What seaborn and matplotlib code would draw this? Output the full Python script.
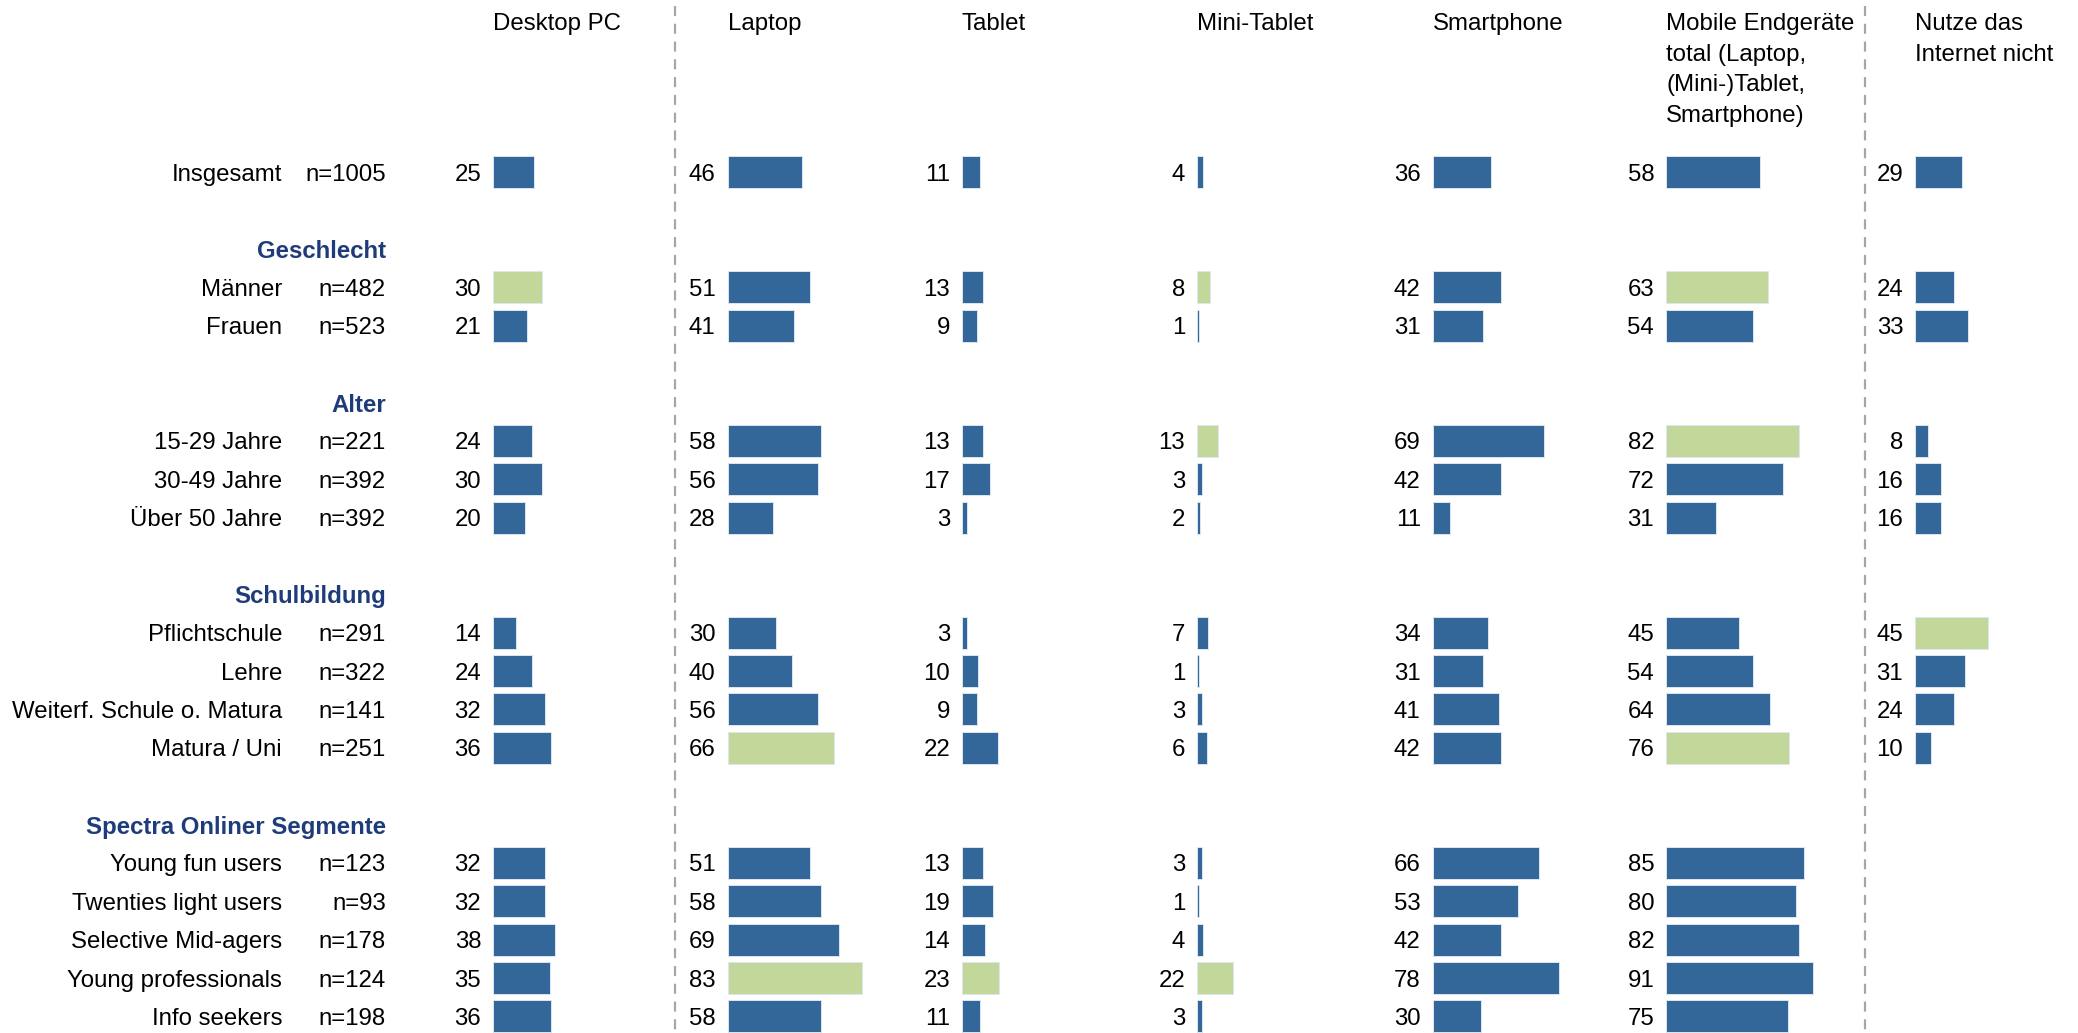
import matplotlib
matplotlib.use("Agg")
import matplotlib.pyplot as plt
import pandas as pd
import seaborn as sns

sns.set_theme(style="white")
plt.rcParams["font.family"] = ["Liberation Sans", "DejaVu Sans"]

# ---------------- data ----------------
group_names = ["", "Geschlecht", "Alter", "Schulbildung", "Spectra Onliner Segmente"]
group_rows = [
    ["Insgesamt"],
    ["Männer", "Frauen"],
    ["15-29 Jahre", "30-49 Jahre", "Über 50 Jahre"],
    ["Pflichtschule", "Lehre", "Weiterf. Schule o. Matura", "Matura / Uni"],
    ["Young fun users", "Twenties light users", "Selective Mid-agers",
     "Young professionals", "Info seekers"],
]
sample_sizes = ["n=1005", "n=482", "n=523", "n=221", "n=392", "n=392", "n=291",
                "n=322", "n=141", "n=251", "n=123", "n=93", "n=178", "n=124", "n=198"]

col_titles = ["Desktop PC", "Laptop", "Tablet", "Mini-Tablet", "Smartphone",
              "Mobile Endgeräte\ntotal (Laptop,\n(Mini-)Tablet,\nSmartphone)",
              "Nutze das\nInternet nicht"]

desktop    = [25, 30, 21, 24, 30, 20, 14, 24, 32, 36, 32, 32, 38, 35, 36]
laptop     = [46, 51, 41, 58, 56, 28, 30, 40, 56, 66, 51, 58, 69, 83, 58]
tablet     = [11, 13, 9, 13, 17, 3, 3, 10, 9, 22, 13, 19, 14, 23, 11]
minitablet = [4, 8, 1, 13, 3, 2, 7, 1, 3, 6, 3, 1, 4, 22, 3]
smartphone = [36, 42, 31, 69, 42, 11, 34, 31, 41, 42, 66, 53, 42, 78, 30]
mobile     = [58, 63, 54, 82, 72, 31, 45, 54, 64, 76, 85, 80, 82, 91, 75]
no_internet = [29, 24, 33, 8, 16, 16, 45, 31, 24, 10, None, None, None, None, None]

# rows highlighted (green) per column
desktop_hl     = ["Männer"]
laptop_hl      = ["Matura / Uni", "Young professionals"]
tablet_hl      = ["Young professionals"]
minitablet_hl  = ["Männer", "15-29 Jahre", "Young professionals"]
smartphone_hl  = []
mobile_hl      = ["Männer", "15-29 Jahre", "Matura / Uni"]
no_internet_hl = ["Pflichtschule"]

series = [desktop, laptop, tablet, minitablet, smartphone, mobile, no_internet]
highlights = [desktop_hl, laptop_hl, tablet_hl, minitablet_hl, smartphone_hl,
              mobile_hl, no_internet_hl]

# ---------------- layout ----------------
BLUE = "#336699"
GREEN = "#C4D79B"
HEAD = "#1F3C7A"
W, H = 2078, 1033
FS = 17.3
row0_px, row_step = 172.3, 38.37


def px2row(py):
    return (py - row0_px) / row_step


y_top, y_bot = px2row(0), px2row(H)

# row positions: each group (after the first) preceded by a blank and a header row
labels, positions, header_pos = [], [], []
pos = 0
for gi, (gname, rows) in enumerate(zip(group_names, group_rows)):
    if gi > 0:
        pos += 1
        header_pos.append(pos)
        pos += 1
    for r in rows:
        labels.append(r)
        positions.append(pos)
        pos += 1

bar_x0 = [493, 727.5, 962, 1197, 1432.5, 1666, 1915]
px_per_unit = 1.62
ax_w = 100 * px_per_unit

fig = plt.figure(figsize=(W / 100, H / 100), dpi=100)

# label layer
lab = fig.add_axes([0, 0, 1, 1])
lab.set_xlim(0, W)
lab.set_ylim(y_bot, y_top)
lab.axis("off")

for name, n, p in zip(labels, sample_sizes, positions):
    lab.text(282, p, name, ha="right", va="center_baseline", fontsize=FS, color="black")
    lab.text(386, p, n, ha="right", va="center_baseline", fontsize=FS, color="black")
for gname, p in zip(group_names[1:], header_pos):
    lab.text(386, p, gname, ha="right", va="center_baseline", fontsize=FS,
             fontweight="bold", color=HEAD)

for xd in (674.6, 1864.7):
    lab.plot([xd, xd], [px2row(6), y_bot], color="#A6A6A6", lw=1.6,
             ls=(0, (4.5, 3.5)), zorder=0)

for x0, title in zip(bar_x0, col_titles):
    lab.text(x0, px2row(13), title, ha="left", va="top", fontsize=FS,
             color="black", linespacing=1.5)

# bar columns
for x0, vals, hl in zip(bar_x0, series, highlights):
    ax = fig.add_axes([x0 / W, 0, ax_w / W, 1])
    df = pd.DataFrame({"row": positions, "value": vals, "label": labels})
    df = df.dropna(subset=["value"])
    df["kind"] = ["hl" if l in hl else "base" for l in df["label"]]
    sns.barplot(data=df, x="value", y="row", hue="kind", hue_order=["base", "hl"],
                palette={"base": BLUE, "hl": GREEN}, orient="h", native_scale=True,
                dodge=False, width=0.835, errorbar=None, legend=False, ax=ax,
                saturation=1, edgecolor="#DDE6F0", linewidth=0.7)
    ax.set_xlim(0, 100)
    ax.set_ylim(y_bot, y_top)
    ax.axis("off")
    ax.patch.set_alpha(0)
    for v, r in zip(df["value"], df["row"]):
        ax.annotate(f"{int(v)}", xy=(0, r), xytext=(-8.5, 0), textcoords="offset points",
                    ha="right", va="center_baseline", fontsize=FS, color="black")

fig.savefig("out.png", dpi=100)
